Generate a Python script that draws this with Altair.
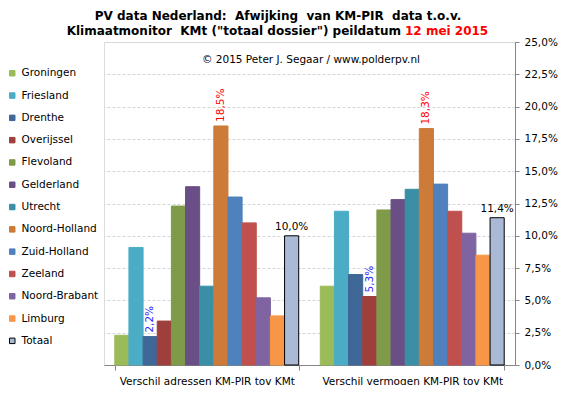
import altair as alt
import pandas as pd

provinces = ["Groningen", "Friesland", "Drenthe", "Overijssel", "Flevoland", "Gelderland",
             "Utrecht", "Noord-Holland", "Zuid-Holland", "Zeeland", "Noord-Brabant",
             "Limburg", "Totaal"]
categories = ["Verschil adressen KM-PIR tov KMt", "Verschil vermogen KM-PIR tov KMt"]
adressen = [2.3, 9.1, 2.2, 3.4, 12.3, 13.8, 6.1, 18.5, 13.0, 11.0, 5.2, 3.8, 10.0]
vermogen = [6.1, 11.9, 7.0, 5.3, 12.0, 12.8, 13.6, 18.3, 14.0, 11.9, 10.2, 8.5, 11.4]
fill_colors = ["#9BBB59", "#4BACC6", "#3F6797", "#9E3F3B", "#7F9A48", "#6A4F86", "#3A8EA6",
               "#CC7B38", "#4F81BD", "#C0504D", "#8064A2", "#F79646", "#A9B9D6"]
stroke_colors = fill_colors[:-1] + ["#000000"]

label_cat = [categories[0], categories[0], categories[0], categories[1], categories[1], categories[1]]
label_prov = ["Drenthe", "Noord-Holland", "Totaal", "Overijssel", "Noord-Holland", "Totaal"]
label_color = ["#2A2AFF", "#FF0000", "#000000", "#2A2AFF", "#FF0000", "#000000"]

title_line1 = "PV data Nederland: \u00a0Afwijking \u00a0van KM-PIR \u00a0data t.o.v."
title_line2 = "Klimaatmonitor \u00a0KMt (\"totaal dossier\") peildatum"
title_date = "12 mei 2015"
credit = "\u00a9 2015 Peter J. Segaar / www.polderpv.nl"

FONT = "DejaVu Sans"

rows = []
for cat, vals in zip(categories, [adressen, vermogen]):
    for p, v in zip(provinces, vals):
        rows.append({"cat": cat, "prov": p, "val": v})
df = pd.DataFrame(rows)

lab_rows = []
for c, p, col in zip(label_cat, label_prov, label_color):
    v = float(df[(df.cat == c) & (df.prov == p)].val.iloc[0])
    lab_rows.append({"cat": c, "prov": p, "val": v, "col": col,
                     "txt": f"{v:.1f}".replace(".", ",") + "%"})
ldf = pd.DataFrame(lab_rows)

x_enc = alt.X("cat:N", sort=categories,
              scale=alt.Scale(paddingInner=0.105, paddingOuter=0.0525),
              axis=alt.Axis(title=None, labelAngle=0, tickBand="extent", labelFontSize=10.5,
                            labelColor="#000000", labelPadding=6, tickSize=5, labelLimit=400,
                            tickColor="#868686", domainColor="#868686", labelFont=FONT))
xo_enc = alt.XOffset("prov:N", sort=provinces, scale=alt.Scale(paddingInner=0, paddingOuter=0))
y_enc = alt.Y("val:Q", scale=alt.Scale(domain=[0, 25], nice=False),
              axis=alt.Axis(orient="right", title=None,
                            values=[0, 2.5, 5, 7.5, 10, 12.5, 15, 17.5, 20, 22.5, 25],
                            labelExpr="replace(format(datum.value, '.1f'), '.', ',') + '%'",
                            labelFontSize=10.5, labelColor="#000000", labelPadding=5,
                            tickSize=4, tickColor="#868686", domainColor="#868686",
                            gridColor="#D4D4D4", gridDash=[3, 2], labelFont=FONT))

leg = dict(orient="none", legendX=-97, legendY=26, title=None, symbolType="square",
           symbolSize=30, labelFontSize=10.5, labelFont=FONT, labelColor="#000000",
           rowPadding=11.3, labelLimit=200, symbolStrokeWidth=1)

bars = alt.Chart(df).mark_bar(strokeWidth=1).encode(
    x=x_enc, xOffset=xo_enc, y=y_enc,
    fill=alt.Fill("prov:N", sort=provinces,
                  scale=alt.Scale(domain=provinces, range=fill_colors),
                  legend=alt.Legend(**leg)),
    stroke=alt.Stroke("prov:N", sort=provinces,
                      scale=alt.Scale(domain=provinces, range=stroke_colors),
                      legend=alt.Legend(**leg)),
)

vert = alt.Chart(ldf[ldf.prov != "Totaal"]).mark_text(
    angle=270, align="left", baseline="middle", dx=4, fontSize=10.5, font=FONT
).encode(x=x_enc, xOffset=xo_enc, y=y_enc, text="txt:N",
         color=alt.Color("col:N", scale=None))

horiz = alt.Chart(ldf[ldf.prov == "Totaal"]).mark_text(
    align="center", baseline="bottom", dy=-4, fontSize=10.5, font=FONT
).encode(x=x_enc, xOffset=xo_enc, y=y_enc, text="txt:N",
         color=alt.Color("col:N", scale=None))

t1 = alt.Chart(pd.DataFrame({"t": [title_line1]})).mark_text(
    fontSize=12, fontWeight="bold", font=FONT, align="center", baseline="middle", color="#000000"
).encode(text="t:N", x=alt.value(174), y=alt.value(-26))

t2 = alt.Chart(pd.DataFrame({"t": [title_line2]})).mark_text(
    fontSize=12, fontWeight="bold", font=FONT, align="right", baseline="middle", color="#000000"
).encode(text="t:N", x=alt.value(297), y=alt.value(-11))

t3 = alt.Chart(pd.DataFrame({"t": [title_date]})).mark_text(
    fontSize=12, fontWeight="bold", font=FONT, align="left", baseline="middle", color="#FF0000"
).encode(text="t:N", x=alt.value(301), y=alt.value(-11))

cr = alt.Chart(pd.DataFrame({"t": [credit]})).mark_text(
    fontSize=10.5, font=FONT, align="center", baseline="middle", color="#000000"
).encode(text="t:N", x=alt.value(207), y=alt.value(18))

chart = alt.layer(bars, vert, horiz, cr, t1, t2, t3).properties(
    width=411, height=323,
    autosize=alt.AutoSizeParams(type="none"),
    padding={"left": 96, "top": 34, "right": 44, "bottom": 20},
    background="#FFFFFF",
).configure_view(fill="#F2F2F2", stroke="#000000", strokeWidth=1).configure(font=FONT)

chart.save("out.html", embed_options={"renderer": "svg", "actions": False})
